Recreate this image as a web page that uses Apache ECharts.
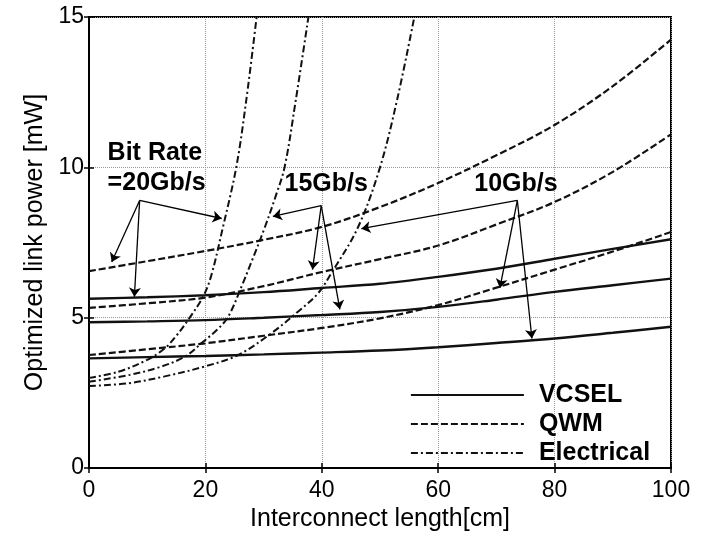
<!DOCTYPE html>
<html>
<head>
<meta charset="utf-8">
<script src="https://cdn.jsdelivr.net/npm/echarts@6/dist/echarts.min.js"></script>
<style>
html,body{margin:0;padding:0;background:#fff;}
#c{width:703px;height:537px;}
</style>
</head>
<body>
<div id="c"></div>
<script>
// ---- data (x = interconnect length [cm], y = optimized link power [mW]) ----
const vcsel20 = [[0,5.63],[10,5.68],[20,5.75],[30,5.85],[40,5.99],[50,6.13],[60,6.36],[70,6.63],[80,6.96],[90,7.29],[100,7.61]];
const vcsel15 = [[0,4.85],[10,4.88],[20,4.92],[30,5.0],[40,5.09],[50,5.19],[60,5.36],[70,5.6],[80,5.86],[90,6.08],[100,6.30]];
const vcsel10 = [[0,3.65],[10,3.69],[20,3.73],[30,3.78],[40,3.84],[50,3.91],[60,4.02],[70,4.16],[80,4.31],[90,4.50],[100,4.70]];
const qwm20 = [[0,6.55],[10,6.88],[20,7.22],[30,7.59],[40,8.02],[50,8.68],[60,9.48],[70,10.4],[80,11.41],[90,12.7],[100,14.25]];
const qwm15 = [[0,5.33],[10,5.48],[20,5.67],[30,6.05],[40,6.52],[50,6.95],[60,7.4],[70,8.1],[80,8.85],[90,9.85],[100,11.1]];
const qwm10 = [[0,3.76],[10,3.95],[20,4.15],[30,4.4],[40,4.66],[50,4.98],[60,5.42],[70,6.0],[80,6.6],[90,7.2],[100,7.85]];
const elec20 = [[0,3.0],[5,3.2],[10,3.6],[13,3.98],[15,4.4],[17,4.92],[19.6,5.7],[21,6.4],[23,8.0],[25.3,10.0],[27,12.2],[28.8,15]];
const elec15 = [[0,2.87],[7,3.1],[12,3.35],[16.5,3.71],[19.6,4.2],[22,4.6],[23.9,5.03],[26.2,6.03],[28,6.9],[30.2,8.0],[32,9.0],[33.6,10.0],[35.5,12.2],[37.7,15]];
const elec10 = [[0,2.73],[6.7,2.82],[13,3.05],[19.9,3.38],[25.6,3.76],[31.3,4.48],[35.9,5.2],[39.3,5.8],[41.6,6.47],[46.2,8.0],[50,10.0],[53,12.3],[55.9,15]];

// annotation arrows: [start, end] in data coordinates
const arrows20 = [[[8.7,8.9],[22.8,8.3]],[[8.7,8.9],[3.9,6.85]],[[8.7,8.9],[7.8,5.7]]];
const arrows15 = [[[39.9,8.73],[31.6,8.37]],[[39.9,8.73],[38.4,6.6]],[[39.9,8.73],[43.1,5.28]]];
const arrows10 = [[[73.6,8.9],[46.8,7.96]],[[73.6,8.9],[70.6,5.99]],[[73.6,8.9],[76.1,4.31]]];
// annotation labels: [text, x, y(top)]
const labels = [["Bit Rate\n=20Gb/s",3.2,10.96],["15Gb/s",33.6,9.93],["10Gb/s",66.2,9.93]];
const legendNames = ["VCSEL","QWM","Electrical"];

const FONT = '"Liberation Sans", Arial, Helvetica, sans-serif';
const INK = '#111';

function lineSeries(name, data, type, width){
  return {
    name: name, type: 'line', data: data, smooth: 0.35, symbol: 'none', clip: true,
    lineStyle: {color: INK, width: width, type: type},
    itemStyle: {color: INK},
    emphasis: {disabled: true}, z: 3
  };
}
const dashQ = [7,3];
const dashE = [7,3,2,3];

const arrowData = arrows20.concat(arrows15, arrows10).map(a => ({coords: a}));

const chart = echarts.init(document.getElementById('c'), null, {renderer: 'canvas'});
const option = {
  animation: false,
  backgroundColor: '#fff',
  grid: {left: 89, right: 32, top: 17, bottom: 65, show: true, borderColor: '#000', borderWidth: 2, backgroundColor: 'transparent'},
  legend: {
    data: legendNames, orient: 'vertical', left: 410, top: 382,
    itemWidth: 113, itemHeight: 20, itemGap: 3, padding: 0, selectedMode: false,
    itemStyle: {opacity: 0},
    lineStyle: {width: 1.8},
    textStyle: {fontFamily: FONT, fontWeight: 'bold', fontSize: 25, lineHeight: 26, color: '#000', padding: [0,0,0,10]}
  },
  xAxis: [{
    type: 'value', min: 0, max: 100, interval: 20,
    name: 'Interconnect length[cm]', nameLocation: 'middle', nameGap: 36,
    nameTextStyle: {fontFamily: FONT, fontSize: 25, color: '#000'},
    axisLine: {show: true, lineStyle: {color: '#000', width: 2}},
    axisTick: {show: true, inside: true, length: 5, lineStyle: {color: '#000', width: 1.5}},
    axisLabel: {fontFamily: FONT, fontSize: 23, color: '#000', margin: 11},
    splitLine: {show: true, lineStyle: {color: '#999', type: 'dotted', width: 1}}
  },{
    type: 'value', position: 'top', min: 0, max: 100, interval: 20,
    axisLine: {show: true, lineStyle: {color: '#000', width: 2}},
    axisTick: {show: true, inside: true, length: 5, lineStyle: {color: '#000', width: 1.5}},
    axisLabel: {show: false}, splitLine: {show: false}
  }],
  yAxis: [{
    type: 'value', min: 0, max: 15, interval: 5,
    name: 'Optimized link power [mW]', nameLocation: 'middle', nameGap: 40,
    nameTextStyle: {fontFamily: FONT, fontSize: 25, color: '#000'},
    axisLine: {show: true, lineStyle: {color: '#000', width: 2}},
    axisTick: {show: true, inside: true, length: 5, lineStyle: {color: '#000', width: 1.5}},
    axisLabel: {fontFamily: FONT, fontSize: 23, color: '#000', margin: 5},
    splitLine: {show: true, lineStyle: {color: '#999', type: 'dotted', width: 1}}
  },{
    type: 'value', position: 'right', min: 0, max: 15, interval: 5,
    axisLine: {show: true, lineStyle: {color: '#000', width: 2}},
    axisTick: {show: true, inside: true, length: 5, lineStyle: {color: '#000', width: 1.5}},
    axisLabel: {show: false}, splitLine: {show: false}
  }],
  series: [
    lineSeries('VCSEL', vcsel20, 'solid', 2.4),
    lineSeries('VCSEL', vcsel15, 'solid', 2.4),
    lineSeries('VCSEL', vcsel10, 'solid', 2.4),
    lineSeries('QWM', qwm20, dashQ, 2.2),
    lineSeries('QWM', qwm15, dashQ, 2.2),
    lineSeries('QWM', qwm10, dashQ, 2.2),
    lineSeries('Electrical', elec20, dashE, 2.0),
    lineSeries('Electrical', elec15, dashE, 2.0),
    lineSeries('Electrical', elec10, dashE, 2.0),
    {
      type: 'lines', coordinateSystem: 'cartesian2d', polyline: false,
      symbol: ['none','arrow'], symbolSize: [0, 9],
      lineStyle: {color: '#000', width: 1.3, opacity: 1, curveness: 0},
      data: arrowData, z: 5, silent: true
    }
  ]
};
chart.setOption(option);

const graphics = labels.map(l => {
  const p = chart.convertToPixel({gridIndex: 0}, [l[1], l[2]]);
  return {
    type: 'text', x: p[0], y: p[1], z: 10, silent: true,
    style: {text: l[0], font: 'bold 25px ' + FONT, fill: '#000', lineHeight: 30,
            align: 'left', verticalAlign: 'top', textAlign: 'left', textVerticalAlign: 'top'}
  };
});
chart.setOption({graphic: graphics});
</script>
</body>
</html>
